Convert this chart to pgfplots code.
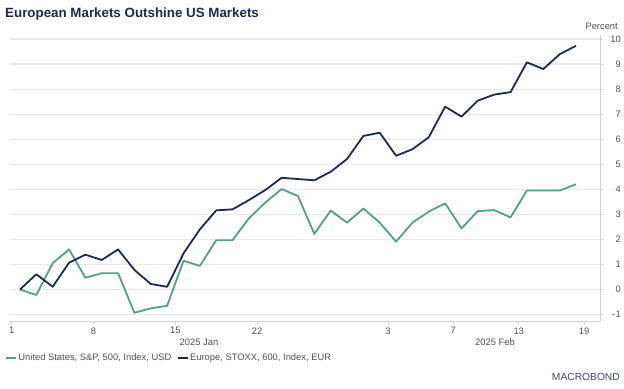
\documentclass[border=0pt]{standalone}
\usepackage{pgfplots}
\pgfplotsset{compat=1.18}
\usepackage{fontspec}
\setmainfont{Liberation Sans}
\definecolor{navy}{HTML}{1B2B4D}
\definecolor{sgreen}{HTML}{52A086}
\definecolor{gridc}{HTML}{E8E8E8}
\definecolor{axc}{HTML}{D0D0D0}
\definecolor{txt}{HTML}{505050}
\pgfplotstableread{
k us eu
0 0 0
1 -0.22 0.61
2 1.05 0.11
3 1.60 1.07
4 0.47 1.39
5 0.65 1.18
6 0.65 1.60
7 -0.93 0.78
8 -0.75 0.22
9 -0.65 0.11
10 1.15 1.44
11 0.94 2.40
12 1.97 3.16
13 1.97 3.20
14 2.84 3.57
15 3.47 3.97
16 4.01 4.46
17 3.73 4.41
18 2.22 4.36
19 3.15 4.70
20 2.67 5.21
21 3.23 6.13
22 2.67 6.26
23 1.91 5.34
24 2.67 5.60
25 3.11 6.08
26 3.44 7.30
27 2.44 6.90
28 3.13 7.54
29 3.17 7.78
30 2.88 7.88
31 3.95 9.07
32 3.95 8.80
33 3.95 9.39
34 4.20 9.73
}\data
\begin{document}
\begin{tikzpicture}
\path[use as bounding box] (0,0) rectangle (624bp,389bp);
\begin{axis}[
 at={(10bp,68bp)}, anchor=south west,
 width=590bp, height=286bp, scale only axis,
 xmin=-0.61, xmax=35.47, ymin=-1.257, ymax=10.16,
 axis x line=bottom, axis y line=right,
 axis line style={-, draw=axc, line width=0.8bp},
 xtick={-0.5,4.5,9.5,14.5,22.5,26.5,30.5,34.5},
 xticklabels={1,8,15,22,3,7,13,19},
 ytick={-1,0,...,10},
 tick align=outside, major tick length=3bp,
 tick style={draw=axc, line width=0.8bp},
 ymajorgrids, grid style={draw=gridc, line width=1.2bp},
 ticklabel style={font=\fontsize{9.4}{11}\selectfont, text=txt},
 yticklabel style={anchor=east, inner sep=0pt, xshift=18bp},
 /pgf/number format/assume math mode=true,
 legend style={at={(-0.0085,-0.129)}, anchor=west, draw=none, fill=none,
   inner sep=0pt, font=\fontsize{9.4}{11}\selectfont, text=txt,
   /tikz/every even column/.append style={column sep=4bp},
   nodes={inner sep=1.5bp}},
 legend columns=2, legend cell align=left,
 legend image code/.code={\draw[#1] (0bp,0bp) -- (10bp,0bp);},
]
\addplot[sgreen, line width=1.8bp, line join=round] table[x=k, y=us] {\data};
\addlegendentry{United States, S\&P, 500, Index, USD}
\addplot[navy, line width=1.8bp, line join=round] table[x=k, y=eu] {\data};
\addlegendentry{Europe, STOXX, 600, Index, EUR}
\end{axis}
\node[anchor=base west, font=\bfseries\fontsize{13.4}{16}\selectfont, text=navy, inner sep=0pt] at (5bp,371.7bp) {European Markets Outshine US Markets};
\node[anchor=base east, font=\fontsize{9.4}{11}\selectfont, text=txt, inner sep=0pt] at (618bp,359bp) {Percent};
\node[anchor=base, font=\fontsize{9.4}{11}\selectfont, text=txt, inner sep=0pt] at (199bp,43bp) {2025 Jan};
\node[anchor=base, font=\fontsize{9.4}{11}\selectfont, text=txt, inner sep=0pt] at (495bp,43bp) {2025 Feb};
\node[anchor=base east, font=\fontsize{10.3}{12}\selectfont, text=navy!85, inner sep=0pt] at (620bp,9bp) {MACROBOND};
\end{tikzpicture}
\end{document}
